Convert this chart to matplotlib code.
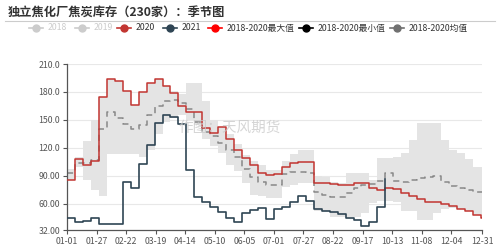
import numpy as np
import matplotlib.pyplot as plt
from matplotlib.lines import Line2D

plt.rcParams['font.family'] = ['Noto Sans CJK SC', 'DejaVu Sans']

# weekly data, one value per week starting 01-01
inv_2020 = [86, 108, 102, 106, 175, 194, 192, 181, 166, 180, 190, 194, 186, 179,
            165, 159, 158, 141, 136, 142, 130, 118, 109, 102, 93, 91, 92, 100,
            104, 105, 105, 82, 82, 81, 80, 80, 82, 82, 77, 75, 77, 76, 72, 68,
            65, 62.5, 62, 60, 58, 55, 52, 48, 45]
inv_2021 = [44.6, 41, 42, 44.6, 38.6, 38.6, 38.6, 84, 77, 103, 123, 147, 155, 153,
            146, 96.4, 67.8, 62.4, 57, 51.7, 44.6, 41, 50.6, 53.5, 56, 44, 54.6,
            57, 62.5, 68, 63, 54, 52, 51, 49, 45, 43, 36.5, 41, 57, 87]
max_1820 = [97, 110, 127, 150, 175, 194, 192, 181, 166, 180, 190, 194, 186, 181,
            178, 190, 190, 170, 150, 142, 135, 124, 112, 106, 102, 96, 96, 106,
            114, 118, 118, 90, 89, 84, 82, 93, 93, 93, 86, 109, 109, 110, 115,
            128, 147, 147, 147, 128, 118, 115, 108, 100, 100]
min_1820 = [86, 100, 86, 75, 68, 114, 114, 113, 113, 110, 118, 135, 148, 152,
            155, 150, 145, 130, 122, 115, 102, 95, 82, 70, 68, 66, 66, 78, 80,
            82, 82, 52, 52, 46, 46, 46, 46, 50, 61, 63, 63, 62, 52, 52, 43, 43,
            50, 55, 56, 55, 52, 48, 45]
mean_1820 = [93, 104, 104, 107, 140, 158, 152, 146, 140, 145, 155, 165, 170, 171,
             168, 162, 148, 137, 133, 125, 118, 110, 97, 89, 84, 80, 80, 92, 94,
             94, 93, 73, 69, 67, 67, 72, 77, 80, 81, 85, 93, 85, 84, 86, 87.5,
             89, 90, 83, 79, 77, 75, 73, 73]

yticks = [32, 60, 90, 120, 150, 180, 210]
ylabels = ['32.00', '60.00', '90.00', '120.0', '150.0', '180.0', '210.0']
xtick_days = [0, 26, 52, 78, 104, 130, 156, 182, 208, 234, 260, 286, 312, 338, 365]
xlabels = ['01-01', '01-27', '02-22', '03-19', '04-14', '05-10', '06-05', '07-01',
           '07-27', '08-22', '09-17', '10-13', '11-08', '12-04', '12-31']

legend_names = ['2018', '2019', '2020', '2021', '2018-2020最大值', '2018-2020最小值', '2018-2020均值']
legend_colors = ['#cccccc', '#cccccc', '#c23531', '#2f4554', '#ff0000', '#000000', '#707070']
legend_text_colors = ['#cccccc', '#cccccc', '#333333', '#333333', '#333333', '#333333', '#333333']
legend_x = [36, 82, 124, 170, 215, 306, 397]

def ext(vals):
    # extend the last weekly value to year end so the step line reaches 12-31
    x = np.arange(len(vals)) * 7
    return np.append(x, 365), np.append(vals, vals[-1])

fig = plt.figure(figsize=(5, 2.47), dpi=100)
ax = fig.add_axes([67/500, 1-230/247, 415/500, 166/247])

xb, ymax = ext(max_1820)
_, ymin = ext(min_1820)
ax.fill_between(xb, ymin, ymax, step='post', color='#e4e4e4', lw=0, zorder=1)

xm, ym = ext(mean_1820)
ax.plot(xm, ym, drawstyle='steps-post', color='#888888', lw=1.1,
        dashes=(4, 3), zorder=2)

x20, y20 = ext(inv_2020)
ax.plot(x20, y20, drawstyle='steps-post', color='#c23531', lw=1.1, zorder=3)

x21 = np.arange(len(inv_2021)) * 7
ax.plot(x21, inv_2021, drawstyle='steps-post', color='#2f4554', lw=1.2, zorder=4)

ax.set_xlim(0, 365)
ax.set_ylim(32, 210)
ax.set_yticks(yticks)
ax.set_yticklabels(ylabels)
ax.set_xticks(xtick_days)
ax.set_xticklabels(xlabels)
ax.tick_params(axis='both', labelsize=6.3, colors='#555555', length=3, width=0.8, pad=2)
for y in yticks[1:]:
    ax.axhline(y, color='#e8e8e8', lw=0.8, zorder=0)
for s in ['top', 'right']:
    ax.spines[s].set_visible(False)
for s in ['left', 'bottom']:
    ax.spines[s].set_color('#555555')
    ax.spines[s].set_linewidth(0.9)

# watermark over the plot area
fig.text(178/500, 1-128/247, '作图：天风期货', fontsize=10.5, color='#c8c8c8',
         alpha=0.75, va='center', ha='left', zorder=10)

fig.text(8/500, 1-12/247, '独立焦化厂焦炭库存（230家）：季节图', fontsize=8.8,
         fontweight='bold', color='#333333', va='center', ha='left')
fig.add_artist(Line2D([5/500, 495/500], [1-21/247, 1-21/247], color='#cccccc', lw=0.8))

ly = 1 - 28/247
for name, c, tc, lx in zip(legend_names, legend_colors, legend_text_colors, legend_x):
    fig.add_artist(Line2D([(lx-7)/500, (lx+7)/500], [ly, ly], color=c, lw=1.2))
    fig.add_artist(Line2D([lx/500], [ly], marker='o', markersize=5, color=c, lw=0))
    fig.text((lx+12)/500, ly, name, fontsize=6.3, color=tc, va='center', ha='left')

fig.savefig('out.png', dpi=100)
